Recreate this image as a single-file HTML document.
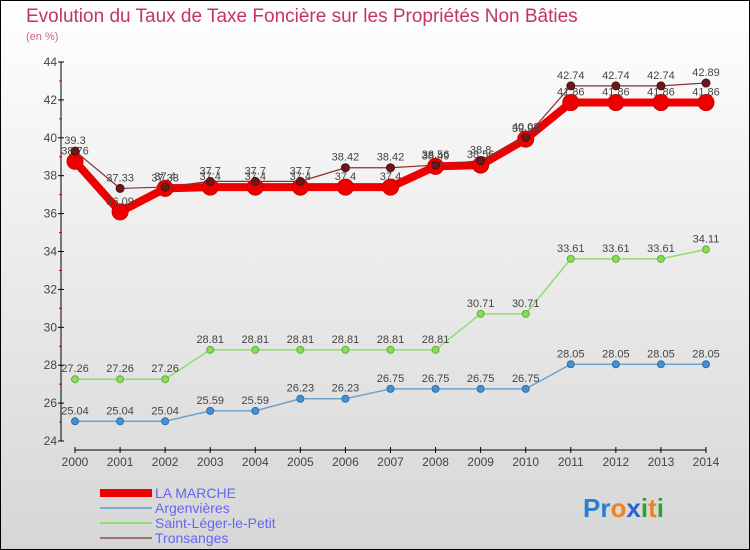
<!DOCTYPE html>
<html><head><meta charset="utf-8"><style>
body{margin:0;width:750px;height:550px;overflow:hidden;font-family:"Liberation Sans",sans-serif}
svg{display:block}
</style></head><body>
<svg id="c" width="750" height="550" xmlns="http://www.w3.org/2000/svg">
<defs><linearGradient id="bg" x1="0" y1="0" x2="0" y2="1"><stop offset="0" stop-color="#ffffff"/><stop offset="1" stop-color="#d6d6d6"/></linearGradient></defs>
<rect x="0.5" y="0.5" width="749" height="549" fill="url(#bg)" stroke="#000"/>
<text x="26" y="22" font-size="19" fill="#c2336b">Evolution du Taux de Taxe Foncière sur les Propriétés Non Bâties</text>
<text x="26" y="40" font-size="11" fill="#d06090">(en %)</text>
<g id="axes"></g><g id="series"></g>
<g>
<line x1="100" y1="493" x2="152" y2="493" stroke="#ee0000" stroke-width="8"/>
<text x="155" y="498" font-size="14" fill="#6666ee">LA MARCHE</text>
<line x1="100" y1="508" x2="152" y2="508" stroke="#7aaad0" stroke-width="2"/>
<text x="155" y="513" font-size="14" fill="#6666ee">Argenvières</text>
<line x1="100" y1="523" x2="152" y2="523" stroke="#90dd70" stroke-width="2"/>
<text x="155" y="528" font-size="14" fill="#6666ee">Saint-Léger-le-Petit</text>
<line x1="100" y1="538" x2="152" y2="538" stroke="#a07070" stroke-width="2"/>
<text x="155" y="543" font-size="14" fill="#6666ee">Tronsanges</text>
</g>
<g font-size="26" font-weight="bold">
<text x="583" y="517"><tspan fill="#2a7fd0">Pr</tspan><tspan fill="#f08020">o</tspan><tspan fill="#2a60d0">x</tspan><tspan fill="#30a030">i</tspan><tspan fill="#f08020">t</tspan><tspan fill="#30a030">i</tspan></text>
</g>
</svg>
<script>
const years=[2000,2001,2002,2003,2004,2005,2006,2007,2008,2009,2010,2011,2012,2013,2014];
const yTicks=[24,26,28,30,32,34,36,38,40,42,44];
const laMarche=[38.76,36.09,37.33,37.4,37.4,37.4,37.4,37.4,38.49,38.56,39.93,41.86,41.86,41.86,41.86];
const argenvieres=[25.04,25.04,25.04,25.59,25.59,26.23,26.23,26.75,26.75,26.75,26.75,28.05,28.05,28.05,28.05];
const saintLeger=[27.26,27.26,27.26,28.81,28.81,28.81,28.81,28.81,28.81,30.71,30.71,33.61,33.61,33.61,34.11];
const tronsanges=[39.3,37.33,37.4,37.7,37.7,37.7,38.42,38.42,38.56,38.8,40.02,42.74,42.74,42.74,42.89];
const NS="http://www.w3.org/2000/svg";
const X0=75,X1=706,Y0=441,Y1=62,VMIN=24,VMAX=44;
const xs=i=>X0+(X1-X0)*i/(years.length-1);
const ys=v=>Y0-(v-VMIN)/(VMAX-VMIN)*(Y0-Y1);
function mk(p,t,a){const e=document.createElementNS(NS,t);for(const k in a)e.setAttribute(k,a[k]);p.appendChild(e);return e;}
const ax=document.getElementById('axes');
let l=mk(ax,'line',{x1:61,y1:Y1,x2:61,y2:Y0,stroke:'#000'});


l=mk(ax,'line',{x1:X0,y1:450,x2:X1,y2:450,stroke:'#000'});


yTicks.forEach((v,i)=>{
  mk(ax,'line',{x1:58,y1:ys(v),x2:64,y2:ys(v),stroke:'#000'});
  if(i<yTicks.length-1)mk(ax,'line',{x1:59,y1:ys(v+1),x2:62,y2:ys(v+1),stroke:'#d00'});
  const t=mk(ax,'text',{x:57,y:ys(v)+4,'font-size':12,fill:'#444','text-anchor':'end'});
  t.textContent=v;
  
  
});
years.forEach((y,i)=>{
  mk(ax,'line',{x1:xs(i),y1:447,x2:xs(i),y2:453,stroke:'#000'});
  const t=mk(ax,'text',{x:xs(i),y:466,'font-size':12,fill:'#444','text-anchor':'middle'});
  t.textContent=y;
  
  
});
const sg=document.getElementById('series');
function series(name,vals,color,w,r,dot,stroke){
  const g=mk(sg,'g',{});
  
  
  const pl=mk(g,'polyline',{points:vals.map((v,i)=>xs(i)+','+ys(v)).join(' '),fill:'none',stroke:color,'stroke-width':w,'stroke-linejoin':'round'});
  
  
  vals.forEach((v,i)=>{
    const c=mk(g,'circle',{cx:xs(i),cy:ys(v),r:r,fill:dot,stroke:stroke,'stroke-width':1});
    
    
    const t=mk(g,'text',{x:xs(i),y:ys(v)-7,'font-size':11,fill:'#444','text-anchor':'middle'});
    t.textContent=String(v);
    
    
  });
}
series('argenvieres',argenvieres,'#6fa3cc',1.5,3.5,'#4a90d0','#2a70b0');
series('saint-leger',saintLeger,'#90dd70',1.5,3.5,'#88dd55','#60b040');
series('la-marche',laMarche,'#ee0000',8,8,'#ee0000','#cc0000');
series('tronsanges',tronsanges,'#8a3030',1.2,4,'#6a1818','#501010');
</script>
</body></html>
